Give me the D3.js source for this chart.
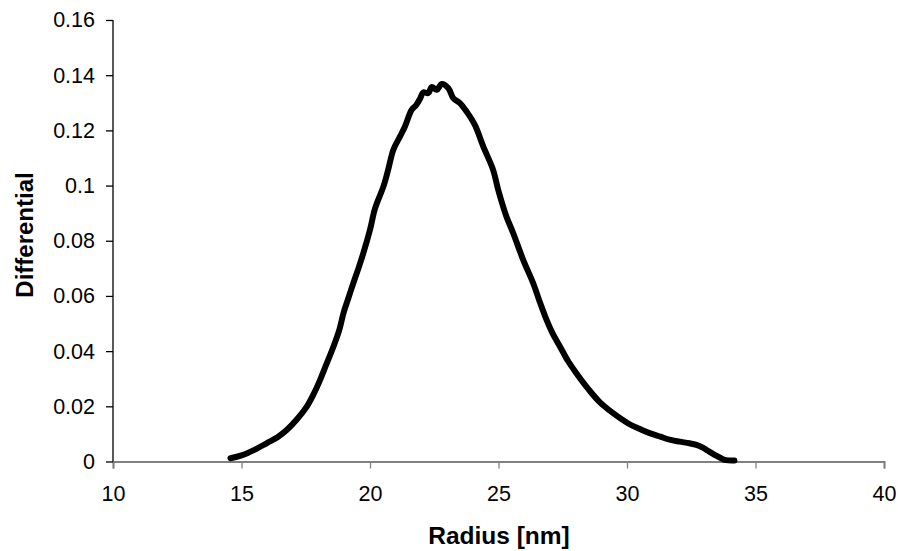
<!DOCTYPE html>
<html>
<head>
<meta charset="utf-8">
<script src="https://cdn.jsdelivr.net/npm/d3@7"></script>
<style>
  body { margin: 0; background: #fff; }
  text { font-family: Arial, "Liberation Sans", sans-serif; }
</style>
</head>
<body>
<div id="chart"></div>
<script>
// radius [nm] and differential values
var radius = [14.57, 15.0, 15.5, 15.99, 16.4, 16.77, 17.15, 17.54, 17.8, 18.06, 18.3, 18.58, 18.8, 18.97, 19.15, 19.35,
    19.55, 19.74, 20.0, 20.2, 20.52, 20.7, 20.91, 21.17, 21.36, 21.62, 21.8, 21.95, 22.07, 22.27, 22.4, 22.6,
    22.79, 23.05, 23.24, 23.5, 23.76, 24.08, 24.41, 24.79, 24.99, 25.3, 25.57, 25.96,
    26.35, 26.6, 26.87, 27.1, 27.39, 27.7, 28.03, 28.5, 28.94, 29.46, 30.1, 30.5, 30.88, 31.3, 31.66, 32.05, 32.43,
    32.7, 32.95, 33.2, 33.47, 33.7, 33.86, 34.18];
var differential = [0.0012, 0.0022, 0.0042, 0.0067, 0.0088, 0.0115, 0.0152, 0.0199, 0.0243, 0.0296, 0.0352, 0.0417,
    0.0475, 0.0538, 0.0590, 0.0646, 0.0700, 0.0755, 0.0840, 0.0918, 0.0996, 0.1055, 0.1130, 0.1178, 0.1214, 0.1274,
    0.1292, 0.1315, 0.1338, 0.1335, 0.1357, 0.1347, 0.1368, 0.1353, 0.1317, 0.1299, 0.1268, 0.1220, 0.1141, 0.1057,
    0.0984, 0.0890, 0.0828, 0.0731, 0.0646, 0.0580, 0.0513, 0.0465,
    0.0417, 0.0365, 0.0320, 0.0262, 0.0215, 0.0175, 0.0135, 0.0118, 0.0103, 0.0090, 0.0079, 0.0072, 0.0066, 0.0060,
    0.0050, 0.0036, 0.0021, 0.0010, 0.0005, 0.0004];

var xTicks = [10, 15, 20, 25, 30, 35, 40];
var yTicks = [0, 0.02, 0.04, 0.06, 0.08, 0.1, 0.12, 0.14, 0.16];

var width = 898, height = 551;
var svg = d3.select('#chart').append('svg')
    .attr('width', width)
    .attr('height', height);

var x = d3.scaleLinear().domain([10, 40]).range([113, 884]);
var y = d3.scaleLinear().domain([0, 0.16]).range([461.5, 20]);

// x axis (grey baseline with ticks pointing down)
var xAxis = svg.append('g')
    .attr('transform', 'translate(0,' + y(0) + ')')
    .call(d3.axisBottom(x).tickValues(xTicks).tickSize(7).tickPadding(17)
        .tickFormat(d3.format('d')));
xAxis.select('.domain').attr('stroke', '#808080').attr('stroke-width', 2);
xAxis.selectAll('.tick line').attr('stroke', '#808080').attr('stroke-width', 1.3);
xAxis.selectAll('.tick text').attr('font-size', 21.5).attr('fill', '#000')
    .attr('font-family', 'Arial, "Liberation Sans", sans-serif');

// y axis
var yAxis = svg.append('g')
    .attr('transform', 'translate(' + x(10) + ',0)')
    .call(d3.axisLeft(y).tickValues(yTicks).tickSize(7).tickPadding(11)
        .tickFormat(function(d) { return d === 0 ? '0' : String(+d.toFixed(2)); }));
yAxis.select('.domain').attr('stroke', '#000').attr('stroke-width', 1.3)
    .attr('d', 'M0,' + y(0.16) + 'V' + y(0));
yAxis.selectAll('.tick line').attr('stroke', '#000').attr('stroke-width', 1.3);
yAxis.selectAll('.tick text').attr('font-size', 21.5).attr('fill', '#000')
    .attr('font-family', 'Arial, "Liberation Sans", sans-serif');

// curve
var points = radius.map(function(r, i) { return [r, differential[i]]; });
var line = d3.line()
    .x(function(d) { return x(d[0]); })
    .y(function(d) { return y(d[1]); })
    .curve(d3.curveCatmullRom);

svg.append('path')
    .datum(points)
    .attr('d', line)
    .attr('fill', 'none')
    .attr('stroke', '#000')
    .attr('stroke-width', 6)
    .attr('stroke-linejoin', 'round')
    .attr('stroke-linecap', 'round');

// axis titles
svg.append('text')
    .attr('x', 499)
    .attr('y', 544)
    .attr('text-anchor', 'middle')
    .attr('font-size', 24.5)
    .attr('font-weight', 'bold')
    .text('Radius [nm]');

svg.append('text')
    .attr('transform', 'translate(33,235) rotate(-90)')
    .attr('text-anchor', 'middle')
    .attr('font-size', 24)
    .attr('font-weight', 'bold')
    .text('Differential');
</script>
</body>
</html>
